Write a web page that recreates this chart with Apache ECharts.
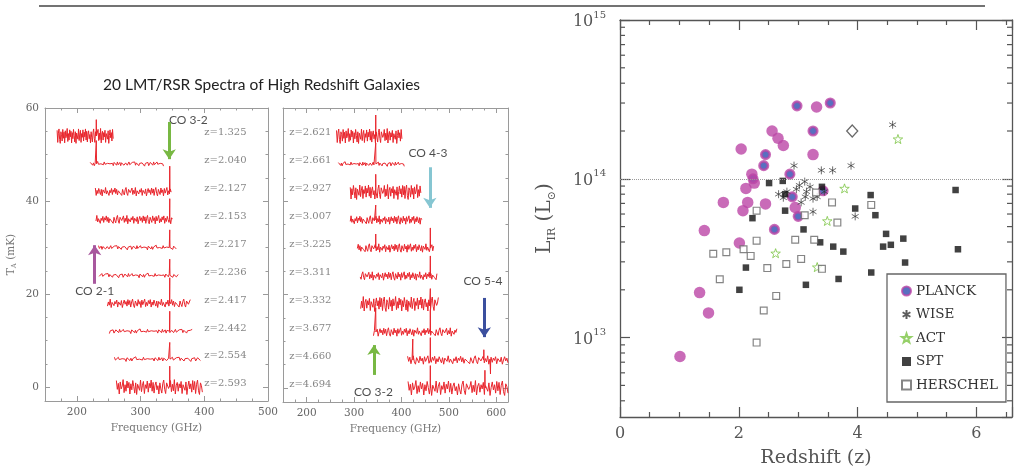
<!DOCTYPE html>
<html>
<head>
<meta charset="utf-8">
<script src="https://cdn.jsdelivr.net/npm/echarts@6/dist/echarts.min.js"></script>
<style>
  html, body { margin: 0; padding: 0; background: #fff; }
  #main { width: 1014px; height: 469px; }
</style>
</head>
<body>
<div id="main"></div>
<script>
// ---------------- 左边：光谱 (spectra) ----------------
// hand-typed noise shapes (mK) for quiet / medium / loud spectra
const noiseQuiet = [0.2,-0.3,0.4,-0.1,0.3,-0.4,0.1,0.5,-0.2,0.0,-0.5,0.3,-0.1,0.4,-0.3,0.2,-0.4,0.1,0.3,-0.2,
  0.5,-0.1,-0.3,0.2,0.0,-0.4,0.3,-0.2,0.4,-0.1,0.2,-0.5,0.1,0.3,-0.3,0.0,0.4,-0.2,0.1,-0.4,
  0.3,0.2,-0.1,-0.3,0.4,-0.2,0.1,0.3,-0.4,0.2,-0.1,0.5,-0.3,0.0,0.2,-0.2,
  -0.3,0.1,0.4,-0.2,-0.4,0.2,0.3,-0.1,0.0,0.4,-0.3,0.2,-0.2,0.5,-0.4,0.1,0.3,-0.3,0.2,-0.1,
  0.4,-0.5,0.1,0.2,-0.2,0.3,-0.4,0.0,0.3,-0.1,0.2,-0.3,0.4,-0.2];
const noiseMid = [0.6,-0.8,0.3,0.9,-0.4,-0.9,0.5,0.2,-0.6,0.8,-0.2,0.4,-0.9,0.7,-0.3,0.1,0.9,-0.7,0.2,-0.5,
  0.6,-0.1,0.8,-0.8,0.3,-0.4,0.7,0.0,-0.6,0.5,-0.9,0.4,0.1,-0.3,0.9,-0.5,0.2,0.6,-0.8,0.3,
  -0.2,0.7,-0.6,0.4,-0.1,0.8,-0.4,0.5,-0.7,0.2,0.6,-0.3,0.1,-0.8,0.5,-0.2,
  -0.7,0.4,0.9,-0.3,-0.8,0.5,0.7,-0.2,0.1,0.8,-0.6,0.3,-0.4,0.9,-0.9,0.2,0.6,-0.5,0.4,-0.1,
  0.7,-0.8,0.3,0.5,-0.4,0.6,-0.9,0.0,0.7,-0.2,0.4,-0.6,0.8,-0.3];
const noiseLoud = [1.2,-1.4,0.6,1.5,-0.8,-1.6,0.9,0.3,-1.1,1.4,-0.5,0.8,-1.5,1.1,-0.4,0.2,1.6,-1.2,0.5,-0.9,
  1.3,-0.2,1.0,-1.5,0.7,-0.6,1.4,0.1,-1.3,0.9,-1.6,0.6,0.2,-0.7,1.5,-1.0,0.4,1.2,-1.4,0.5,
  -0.3,1.3,-1.1,0.8,-0.2,1.5,-0.9,1.0,-1.3,0.4,1.1,-0.6,0.3,-1.5,0.9,-0.4,
  -1.3,0.7,1.5,-0.5,-1.4,0.9,1.2,-0.3,0.2,1.4,-1.0,0.6,-0.8,1.6,-1.5,0.4,1.0,-0.9,0.7,-0.2,
  1.2,-1.4,0.5,0.8,-0.7,1.1,-1.6,0.1,1.3,-0.4,0.7,-1.1,1.4,-0.6];
const noiseSets = { q: noiseQuiet, m: noiseMid, l: noiseLoud };

// [z, baseline (mK), first GHz, last GHz, noise, lines [GHz, peak above baseline]]
const spectraA = [
  ['1.325', 54, 169, 257, 'l', [[230.5, 3.5]]],
  ['2.040', 48, 221, 336, 'q', [[230.5, 5.0]]],
  ['2.127', 42, 229, 348, 'm', [[345.8, 5.5]]],
  ['2.153', 36, 230, 350, 'm', [[345.8, 4.5]]],
  ['2.217', 30, 234, 356, 'q', [[345.8, 3.8]]],
  ['2.236', 24, 235, 359, 'q', [[345.8, 3.5]]],
  ['2.417', 18, 248, 378, 'm', [[345.8, 5.5]]],
  ['2.442', 12, 251, 381, 'q', [[345.8, 4.3]]],
  ['2.554', 6, 259, 394, 'q', [[345.8, 3.6]]],
  ['2.593', 0, 262, 397, 'l', [[345.8, 4.5]]]
];
const spectraB = [
  ['2.621', 54, 263, 401, 'l', [[345.8, 4.5]]],
  ['2.661', 48, 267, 406, 'q', [[345.8, 4.5]]],
  ['2.927', 42, 292, 441, 'l', [[345.8, 3.8]]],
  ['3.007', 36, 292, 443, 'm', [[345.8, 3.2]]],
  ['3.225', 30, 307, 468, 'm', [[345.8, 3.0], [461.0, 4.3]]],
  ['3.311', 24, 313, 475, 'm', [[461.0, 4.3]]],
  ['3.332', 18, 314, 478, 'l', [[461.0, 3.3]]],
  ['3.677', 12, 341, 517, 'm', [[345.8, 5.2], [461.0, 4.8]]],
  ['4.660', 6, 413, 625, 'm', [[424.0, 4.5], [461.0, 4.8], [574.0, 2.2], [588.0, -3.0]]],
  ['4.694', 0, 414, 625, 'l', [[461.0, 4.8], [576.3, 3.8]]]
];

// CO arrows: [label, colour, x GHz, tail y, head y, label x, label y]
const arrowsA = [
  ['CO 3-2', '#78b843', 345, 57.0, 49.0, 375, 57.4],
  ['CO 2-1', '#a8589e', 228, 22.2, 30.5, 228, 20.6]
];
const arrowsB = [
  ['CO 4-3', '#86c6d2', 460, 47.3, 38.6, 456, 50.3],
  ['CO 5-4', '#3b4f9e', 575, 19.3, 10.9, 572, 22.8],
  ['CO 3-2', '#78b843', 342, 2.8, 9.2, 341, -0.9]
];

// ---------------- 右边：L_IR vs redshift ----------------
const planckBlue = [[2.98,2.88e14],[3.54,3.0e14],[3.25,2.0e14],[2.45,1.42e14],[2.42,1.21e14],[2.86,1.07e14],
  [2.24,1.0e14],[2.90,7.7e13],[3.00,5.8e13],[3.42,8.4e13],[2.60,4.8e13]];
const planckPlain = [[3.31,2.83e14],[2.56,2.0e14],[2.66,1.8e14],[2.75,1.62e14],[2.04,1.54e14],[3.25,1.42e14],
  [2.22,1.07e14],[2.12,8.7e13],[2.26,9.4e13],[1.74,7.1e13],[2.15,7.1e13],[2.07,6.3e13],[2.45,6.95e13],
  [2.95,6.6e13],[1.42,4.72e13],[2.01,3.94e13],[1.34,1.92e13],[1.49,1.43e13],[1.01,7.6e12]];
const wise = [[2.93,1.21e14],[3.39,1.13e14],[3.58,1.13e14],[3.89,1.21e14],[4.59,2.19e14],[3.11,9.6e13],
  [2.67,8.0e13],[2.81,8.3e13],[2.97,8.6e13],[3.14,8.3e13],[3.20,8.9e13],[3.12,7.7e13],[3.25,7.5e13],
  [3.05,7.1e13],[3.25,6.2e13],[3.96,5.8e13],[3.44,8.3e13],[3.32,7.7e13],[3.02,9.1e13],[2.75,7.6e13]];
const act = [[4.68,1.78e14],[3.78,8.7e13],[3.49,5.43e13],[2.62,3.4e13],[3.32,2.78e13]];
const spt = [[2.51,9.4e13],[2.74,9.7e13],[2.78,8.0e13],[3.40,8.9e13],[4.22,7.9e13],[5.65,8.5e13],[2.23,5.65e13],
  [2.78,6.3e13],[3.96,6.5e13],[4.30,5.9e13],[3.09,4.8e13],[4.48,4.5e13],[4.77,4.2e13],[3.37,3.98e13],
  [3.59,3.74e13],[3.76,3.48e13],[4.43,3.74e13],[4.56,3.84e13],[5.69,3.6e13],[4.80,2.97e13],[2.12,2.76e13],
  [4.23,2.57e13],[3.68,2.34e13],[3.13,2.15e13],[2.01,2.0e13]];
const herschel = [[2.30,6.3e13],[3.57,7.1e13],[4.23,6.85e13],[3.66,5.3e13],[3.11,5.9e13],[3.30,8.2e13],
  [2.30,4.08e13],[2.95,4.13e13],[3.27,4.13e13],[2.08,3.6e13],[1.57,3.37e13],[1.79,3.45e13],[2.20,3.27e13],
  [3.05,3.13e13],[2.80,2.91e13],[2.48,2.74e13],[3.40,2.71e13],[1.68,2.33e13],[2.63,1.83e13],[2.42,1.48e13],
  [2.30,9.3e12]];
const diamond = [[3.91,2.0e14]];
const logMinorTicks = [4e12,5e12,6e12,7e12,8e12,9e12,2e13,3e13,4e13,5e13,6e13,7e13,8e13,9e13,
  2e14,3e14,4e14,5e14,6e14,7e14,8e14,9e14];

const SERIF = 'DejaVu Serif';
const RED = '#e8242b';

// one spectrum -> [GHz, mK] points
function traceData(s, k) {
  const noise = noiseSets[s[4]];
  const n = noise.length;
  const pts = [];
  for (let i = 0; i < n; i++) {
    const f = s[2] + (s[3] - s[2]) * i / (n - 1);
    pts.push([f, s[1] + noise[(i + k * 11) % n]]);
  }
  s[5].forEach(function (ln) {
    pts.push([ln[0] - 0.4, s[1]], [ln[0], s[1] + ln[1]], [ln[0] + 0.4, s[1]]);
  });
  pts.sort(function (a, b) { return a[0] - b[0]; });
  return pts;
}

// frame axes for the spectra panels
function specAxis(extra) {
  return Object.assign({
    type: 'value',
    axisLine: { onZero: false, lineStyle: { color: '#9a9a9a', width: 1 } },
    axisTick: { inside: true, length: 5, lineStyle: { color: '#9a9a9a' } },
    minorTick: { show: true, splitNumber: 4, length: 2.5, lineStyle: { color: '#9a9a9a' } },
    splitLine: { show: false },
    axisLabel: { color: '#666', fontFamily: SERIF, fontSize: 10.5, margin: 6, showMinLabel: false }
  }, extra);
}
function scAxis(extra) {
  return Object.assign({
    axisLine: { onZero: false, lineStyle: { color: '#555', width: 1.3 } },
    axisTick: { inside: true, length: 10, lineStyle: { color: '#555', width: 1.2 } },
    splitLine: { show: false }
  }, extra);
}

let myChart = echarts.init(document.querySelector('#main'));

let series = [];
function addPanel(list, arrows, xi, labelX) {
  list.forEach(function (s, k) {
    series.push({
      type: 'line', xAxisIndex: xi, yAxisIndex: xi, data: traceData(s, k),
      symbol: 'none', silent: true, lineStyle: { color: RED, width: 1 }, z: 2
    });
  });
  // z= labels
  series.push({
    type: 'scatter', xAxisIndex: xi, yAxisIndex: xi, symbolSize: 0, silent: true,
    data: list.map(function (s) { return { name: 'z=' + s[0], value: [labelX, s[1] + 0.7] }; }),
    label: { show: true, position: 'right', distance: 0, formatter: '{b}', color: '#666', fontFamily: SERIF, fontSize: 10 }
  });
  // CO labels + arrows
  series.push({
    type: 'scatter', xAxisIndex: xi, yAxisIndex: xi, symbolSize: 0, silent: true, z: 4,
    data: arrows.map(function (a) { return { name: a[0], value: [a[5], a[6]] }; }),
    label: { show: true, position: 'inside', formatter: '{b}', color: '#1e1e1e', fontFamily: 'Lato', fontSize: 12 },
    markLine: {
      silent: true, symbol: ['none', 'arrow'], symbolSize: 10, label: { show: false },
      lineStyle: { width: 3, type: 'solid' },
      data: arrows.map(function (a) {
        return [{ coord: [a[2], a[3]], lineStyle: { color: a[1] } }, { coord: [a[2], a[4]] }];
      })
    }
  });
}
addPanel(spectraA, arrowsA, 0, 400);
addPanel(spectraB, arrowsB, 2, 163);

// scatter panel uses axis index 4
const scatterBase = { type: 'scatter', xAxisIndex: 4, yAxisIndex: 4 };
series.push(Object.assign({}, scatterBase, {
  name: 'PLANCK', data: planckBlue, symbolSize: 8.5,
  itemStyle: { color: '#2f4bb0', borderColor: '#bb46a6', borderWidth: 2.6 }
}));
series.push(Object.assign({}, scatterBase, {
  name: 'PLANCK', data: planckPlain, symbolSize: 11.5, itemStyle: { color: '#bb46a6' }
}));
series.push(Object.assign({}, scatterBase, {
  name: 'WISE', data: wise, symbolSize: 8, symbolKeepAspect: true,
  symbol: 'path://M5 0V10M0.67 2.5L9.33 7.5M0.67 7.5L9.33 2.5',
  itemStyle: { color: 'transparent', borderColor: '#333', borderWidth: 0.9 }
}));
series.push(Object.assign({}, scatterBase, {
  name: 'ACT', data: act, symbolSize: 9.5, symbolKeepAspect: true,
  symbol: 'path://M5,0L6.2,3.6L10,3.7L7,6L8.1,9.6L5,7.5L1.9,9.6L3,6L0,3.7L3.8,3.6Z',
  itemStyle: { color: '#fff', borderColor: '#7cc444', borderWidth: 1 }
}));
series.push(Object.assign({}, scatterBase, {
  name: 'SPT', data: spt, symbol: 'rect', symbolSize: 6.5, itemStyle: { color: '#111' }
}));
series.push(Object.assign({}, scatterBase, {
  name: 'HERSCHEL', data: herschel, symbol: 'rect', symbolSize: 6.8,
  itemStyle: { color: '#fff', borderColor: '#666', borderWidth: 1.2 }
}));
series.push(Object.assign({}, scatterBase, {
  name: 'other', data: diamond, symbol: 'diamond', symbolSize: [11, 12],
  itemStyle: { color: '#fff', borderColor: '#444', borderWidth: 1.3 },
  markLine: {
    silent: true, symbol: 'none', label: { show: false },
    lineStyle: { type: 'dotted', color: '#999', width: 1 },
    data: [{ yAxis: 1e14 }]
  }
}));
// minor ticks of the log axis (left and right edges)
series.push({
  type: 'custom', xAxisIndex: 4, yAxisIndex: 4, silent: true,
  data: logMinorTicks.map(function (v) { return [0, v]; }),
  renderItem: function (params, api) {
    const v = api.value(1);
    const l = api.coord([0, v]);
    const r = api.coord([6.6, v]);
    const st = { stroke: '#555', lineWidth: 1.2 };
    return {
      type: 'group', children: [
        { type: 'line', shape: { x1: l[0], y1: l[1], x2: l[0] + 5, y2: l[1] }, style: st },
        { type: 'line', shape: { x1: r[0] - 5, y1: r[1], x2: r[0], y2: r[1] }, style: st }
      ]
    };
  }
});

function powLabel(v) {
  const e = Math.round(Math.log10(v));
  if (Math.abs(Math.log10(v) - e) > 0.01) return '';
  return '{b|10}{s|' + e + '}';
}

let option = {
  animation: false,
  title: {
    text: '20 LMT/RSR Spectra of High Redshift Galaxies',
    left: 103, top: 77, padding: 0,
    textStyle: { fontFamily: 'Lato', fontSize: 15.5, fontWeight: 'normal', color: '#222' }
  },
  graphic: [{
    type: 'line', shape: { x1: 39, y1: 6, x2: 985, y2: 6 },
    style: { stroke: '#444', lineWidth: 1.5 }
  }],
  legend: {
    data: ['PLANCK', 'WISE', 'ACT', 'SPT', 'HERSCHEL'],
    orient: 'vertical', left: 887, top: 274,
    padding: [10, 8, 10, 14], itemGap: 9.5, itemWidth: 9, itemHeight: 9,
    borderColor: '#666', borderWidth: 1.3, selectedMode: false,
    textStyle: { fontFamily: SERIF, fontSize: 13.5, color: '#333', lineHeight: 14 }
  },
  grid: [
    { left: 45, top: 108, width: 223, height: 293, outerBoundsMode: 'none' },
    { left: 283, top: 108, width: 225, height: 294, outerBoundsMode: 'none' },
    { left: 620, top: 20, width: 392, height: 397, outerBoundsMode: 'none' }
  ],
  xAxis: [
    specAxis({ gridIndex: 0, min: 150, max: 500, splitNumber: 4,
      name: 'Frequency (GHz)', nameLocation: 'middle', nameGap: 17,
      nameTextStyle: { color: '#777', fontFamily: SERIF, fontSize: 10.5 } }),
    specAxis({ gridIndex: 0, min: 150, max: 500, splitNumber: 4, position: 'top',
      axisLabel: { show: false } }),
    specAxis({ gridIndex: 1, min: 150, max: 625, splitNumber: 5,
      name: 'Frequency (GHz)', nameLocation: 'middle', nameGap: 17,
      nameTextStyle: { color: '#777', fontFamily: SERIF, fontSize: 10.5 } }),
    specAxis({ gridIndex: 1, min: 150, max: 625, splitNumber: 5, position: 'top',
      axisLabel: { show: false } }),
    scAxis({ gridIndex: 2, type: 'value', min: 0, max: 6.6, interval: 2,
      minorTick: { show: true, splitNumber: 4, length: 5, lineStyle: { color: '#555', width: 1.2 } },
      axisLabel: { color: '#555', fontFamily: SERIF, fontSize: 16, margin: 9, showMaxLabel: false },
      name: 'Redshift (z)', nameLocation: 'middle', nameGap: 32,
      nameTextStyle: { color: '#555', fontFamily: SERIF, fontSize: 19 } }),
    scAxis({ gridIndex: 2, type: 'value', min: 0, max: 6.6, interval: 2, position: 'top',
      minorTick: { show: true, splitNumber: 4, length: 5, lineStyle: { color: '#555', width: 1.2 } },
      axisLabel: { show: false } })
  ],
  yAxis: [
    specAxis({ gridIndex: 0, min: -3, max: 60, splitNumber: 3,
      name: '{a|T}{b|A}{a| (mK)}', nameLocation: 'middle', nameGap: 27, nameRotate: 90,
      nameTextStyle: { color: '#777', fontFamily: SERIF,
        rich: { a: { fontFamily: SERIF, fontSize: 10.5, color: '#777', lineHeight: 14 },
                b: { fontFamily: SERIF, fontSize: 7, color: '#777', lineHeight: 8, verticalAlign: 'bottom' } } } }),
    specAxis({ gridIndex: 0, min: -3, max: 60, splitNumber: 3, position: 'right', axisLabel: { show: false } }),
    specAxis({ gridIndex: 1, min: -3, max: 60, splitNumber: 3, axisLabel: { show: false } }),
    specAxis({ gridIndex: 1, min: -3, max: 60, splitNumber: 3, position: 'right', axisLabel: { show: false } }),
    scAxis({ gridIndex: 2, type: 'log', logBase: 10, min: 3.1623e12, max: 1e15,
      axisLabel: { formatter: powLabel, showMinLabel: false, margin: 14,
        rich: { b: { fontFamily: SERIF, fontSize: 16, color: '#555', lineHeight: 20, verticalAlign: 'bottom' },
                s: { fontFamily: SERIF, fontSize: 10, color: '#555', lineHeight: 12, verticalAlign: 'top' } } },
      name: '{a|L}{b|IR}{a| (L}{b|⊙}{a|)}', nameLocation: 'middle', nameGap: 62, nameRotate: 90,
      nameTextStyle: { color: '#555', fontFamily: SERIF,
        rich: { a: { fontFamily: SERIF, fontSize: 20, color: '#555', lineHeight: 26 },
                b: { fontFamily: SERIF, fontSize: 11, color: '#555', lineHeight: 12, verticalAlign: 'bottom' } } } }),
    scAxis({ gridIndex: 2, type: 'log', logBase: 10, min: 3.1623e12, max: 1e15, position: 'right',
      axisLabel: { show: false } })
  ],
  series: series
};

myChart.setOption(option);
</script>
</body>
</html>
